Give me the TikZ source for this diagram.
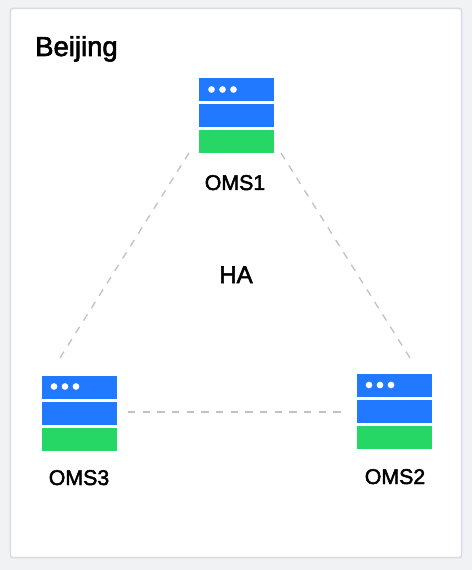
\documentclass[tikz,border=0pt]{standalone}
\usepackage{fontspec}
\setmainfont[FakeBold=2.2]{Liberation Sans}
\definecolor{srvblue}{HTML}{2079FF}
\definecolor{srvgreen}{HTML}{26D766}
\definecolor{dashgrey}{HTML}{BFC3C8}
\definecolor{outerbg}{HTML}{F1F2F4}
\definecolor{panelline}{HTML}{D9DCE3}
\tikzset{
  x=0.75pt,y=-0.75pt,
  bluebar/.style={fill=srvblue,draw=none,minimum width=56.25pt,minimum height=17.25pt,inner sep=0pt,outer sep=0pt},
  greenbar/.style={fill=srvgreen,draw=none,minimum width=56.25pt,minimum height=17.25pt,inner sep=0pt,outer sep=0pt},
  ledot/.style={circle,fill=white,draw=none,minimum size=5pt,inner sep=0pt},
  lbl/.style={font=\fontsize{16}{19}\selectfont,text=black,inner sep=0pt},
  hadash/.style={draw=dashgrey,line width=1pt,dash pattern=on 5.5pt off 5.5pt},
}
\begin{document}
\begin{tikzpicture}
\useasboundingbox (0,0) rectangle (472,570);
\fill[outerbg] (0,0) rectangle (472,570);
\node[draw=panelline,fill=white,line width=1.2pt,rounded corners=2pt,minimum width=338.5pt,minimum height=412pt,inner sep=0pt] (panel) at (236,283) {};
\node[lbl,font=\fontsize{20.6}{24}\selectfont,anchor=base west] (title) at (35,56) {Beijing};
% OMS1
\node[bluebar] (a1) at (236.5,90) {};
\node[bluebar] (a2) at (236.5,115.5) {};
\node[greenbar] (a3) at (236.5,141.5) {};
\node[ledot] (a4) at (211.5,89.5) {};
\node[ledot] (a5) at (222.5,89.5) {};
\node[ledot] (a6) at (233.5,89.5) {};
\node[lbl,anchor=base] (l1) at (235,190) {OMS1};
% OMS3
\node[bluebar] (b1) at (79,387) {};
\node[bluebar] (b2) at (79,413) {};
\node[greenbar] (b3) at (79,439) {};
\node[ledot] (b4) at (54,386.5) {};
\node[ledot] (b5) at (65,386.5) {};
\node[ledot] (b6) at (76,386.5) {};
\node[lbl,anchor=base] (l3) at (79,485) {OMS3};
% OMS2
\node[bluebar] (c1) at (394,385) {};
\node[bluebar] (c2) at (394,411) {};
\node[greenbar] (c3) at (394,437) {};
\node[ledot] (c4) at (369,385) {};
\node[ledot] (c5) at (380,385) {};
\node[ledot] (c6) at (391,385) {};
\node[lbl,anchor=base] (l2) at (395,484) {OMS2};
\node[lbl,font=\fontsize{18}{22}\selectfont,anchor=base] (ha) at (236,283) {HA};
% connectors
\coordinate (p1) at (189,153);
\coordinate (p2) at (60,358);
\coordinate (q1) at (281,153);
\coordinate (q2) at (410,358);
\coordinate (r1) at (128,412);
\coordinate (r2) at (345,412);
\draw[hadash] (p1) -- (p2);
\draw[hadash] (q1) -- (q2);
\draw[hadash] (r1) -- (r2);
\end{tikzpicture}
\end{document}
